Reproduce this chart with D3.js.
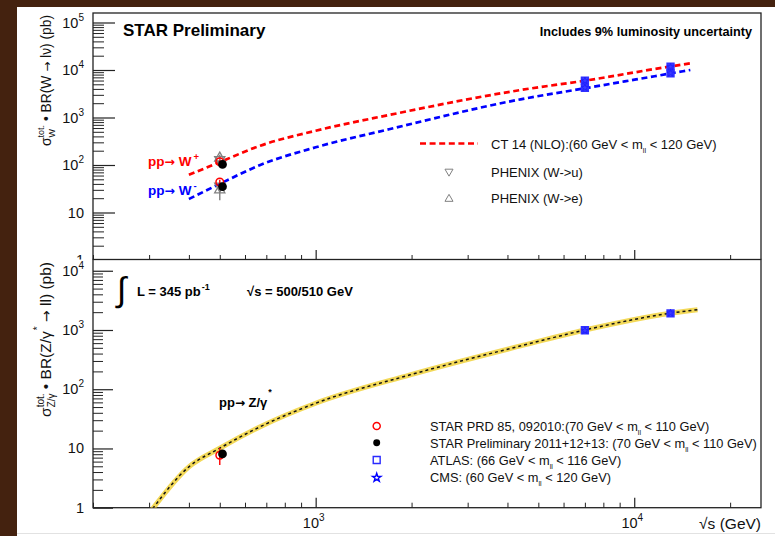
<!DOCTYPE html>
<html>
<head>
<meta charset="utf-8">
<script src="https://cdn.jsdelivr.net/npm/d3@7"></script>
<style>
  body { margin: 0; background: #fff; }
  svg { display: block; }
  text { font-family: "Liberation Sans", Arial, Helvetica, sans-serif; white-space: pre; }
</style>
</head>
<body>
<svg id="chart" width="775" height="536"></svg>
<script>
// ---- CT14 NLO predictions, sqrt(s) in GeV, cross sections in pb ----
const theoryEnergy = [400, 500, 670, 1000, 1700, 4400, 7000, 13000, 15000];
const wPlusTheory  = [62, 115, 255, 527, 1130, 3790, 5960, 11900, 13800];
const wMinusTheory = [19.2, 40, 100, 236, 565, 2415, 4120, 8460, 10000];
const zEnergy      = [300, 400, 500, 670, 1000, 1980, 4400, 7000, 13000, 15800];
const zTheory      = [0.8, 4.9, 10.1, 23.3, 58, 175, 539, 1000, 1920, 2200];

// ---- measurements ----
const starPrdEnergy = 500;          // STAR PRD 85, 092010
const starPrdW      = [117, 44];    // W+, W-
const starPrdWErr   = [10, 5];
const starPrdZ      = 7.7;
const starPrdZErr   = 2.45;

const starPrelEnergy = 510;         // STAR Preliminary 2011+12+13
const starPrelW      = [103, 35];
const starPrelWErr   = [5, 3];
const starPrelZ      = 8.1;
const starPrelZErr   = 0.8;

const phenixEnergy = 500;
const phenixE      = [140, 30];     // W -> e
const phenixEErr   = [25, 12];
const phenixMu     = [130, 36];     // W -> mu
const phenixMuErr  = [20, 8];

const lhcEnergy = [7000, 13000];
const atlasWPlus  = [6000, 11800];
const atlasWMinus = [4200, 8500];
const atlasZ      = [990, 1910];
const cmsWPlus    = [5930, 11600];
const cmsWMinus   = [4260, 8580];
const cmsZ        = [975, 1930];

// ---- axis ticks ----
const xMajor  = [1e3, 1e4];
const xLabels = [["10", "3"], ["10", "4"]];
const yTopMajor  = [1, 10, 1e2, 1e3, 1e4, 1e5];
const yTopLabels = [["1", ""], ["10", ""], ["10", "2"], ["10", "3"], ["10", "4"], ["10", "5"]];
const yBotMajor  = [1, 10, 1e2, 1e3, 1e4];
const yBotLabels = [["1", ""], ["10", ""], ["10", "2"], ["10", "3"], ["10", "4"]];

const svg = d3.select("#chart");
const L = 93, R = 761;
const topPad = { y0: 13, y1: 260 };
const botPad = { y0: 259.5, y1: 507.7 };
const ARROW_FONT = "DejaVu Sans";

const x = d3.scaleLog().domain([200, 25000]).range([L, R]);
const yTop = d3.scaleLog().domain([1, Math.pow(10, 5.2)]).range([topPad.y1, topPad.y0]);
const yBot = d3.scaleLog().domain([1, Math.pow(10, 4.19)]).range([botPad.y1, botPad.y0]);

// background with dark border band
svg.append("rect").attr("width", 775).attr("height", 536).attr("fill", "#ffffff");
svg.append("rect").attr("x", 0).attr("y", 0).attr("width", 775).attr("height", 7).attr("fill", "#44220f");
svg.append("rect").attr("x", 0).attr("y", 0).attr("width", 17).attr("height", 536).attr("fill", "#44220f");
svg.append("line").attr("x1", 17).attr("x2", 775).attr("y1", 533.5).attr("y2", 533.5).attr("stroke", "#e2e2e2");

// lays out text pieces (normal / super / sub) left to right, then anchors the whole run
function rich(parent, pieces, opt) {
  const outer = parent.append("g")
    .attr("transform", `translate(${opt.x},${opt.y}) rotate(${opt.rotate || 0})`);
  const inner = outer.append("g");
  let cursor = 0, lastStart = 0;
  pieces.forEach(p => {
    const start = p.stack ? lastStart : cursor;
    const t = inner.append("text")
      .attr("x", start + (p.dx || 0))
      .attr("y", p.shift || 0)
      .attr("font-size", p.size || opt.size)
      .attr("font-weight", p.weight || opt.weight || "normal")
      .attr("fill", p.color || opt.color || "#000")
      .text(p.text);
    if (p.font) t.style("font-family", p.font);
    const w = t.node().getComputedTextLength() + (p.dx || 0);
    if (!p.stack) lastStart = start;
    cursor = Math.max(cursor, start + w);
  });
  const anchor = opt.anchor || "start";
  const off = anchor === "end" ? -cursor : anchor === "middle" ? -cursor / 2 : 0;
  inner.attr("transform", `translate(${off},0)`);
  return outer;
}

const mll = (size) => [
  { text: "m", size },
  { text: "ll", size: size * 0.55, shift: 4 },
];
const arrow = (size, weight) => ({ text: "\u2192", size, weight, font: ARROW_FONT });

// ---------------- shared panel drawing ----------------
function drawFrameAxes(g, y, pad, majors, labels, yMajLen, yMinLen) {
  g.append("rect").attr("x", L).attr("y", pad.y0).attr("width", R - L).attr("height", pad.y1 - pad.y0)
    .attr("fill", "none").attr("stroke", "#222").attr("stroke-width", 1.3);

  // y ticks (drawn inward)
  const yMinor = y.ticks().filter(v => !majors.includes(v));
  g.append("g").attr("transform", `translate(${L},0)`)
    .call(d3.axisRight(y).tickValues(yMinor).tickSize(yMinLen).tickFormat(""))
    .call(a => a.select(".domain").remove())
    .selectAll("line").attr("stroke", "#222").attr("stroke-width", 1);
  g.append("g").attr("transform", `translate(${L},0)`)
    .call(d3.axisRight(y).tickValues(majors).tickSize(yMajLen).tickFormat(""))
    .call(a => a.select(".domain").remove())
    .selectAll("line").attr("stroke", "#222").attr("stroke-width", 1.2);

  // x ticks (drawn inward from the bottom)
  const xMinor = x.ticks().filter(v => !xMajor.includes(v));
  g.append("g").attr("transform", `translate(0,${pad.y1})`)
    .call(d3.axisTop(x).tickValues(xMinor).tickSize(5).tickFormat(""))
    .call(a => a.select(".domain").remove())
    .selectAll("line").attr("stroke", "#222");
  g.append("g").attr("transform", `translate(0,${pad.y1})`)
    .call(d3.axisTop(x).tickValues(xMajor).tickSize(10).tickFormat(""))
    .call(a => a.select(".domain").remove())
    .selectAll("line").attr("stroke", "#222").attr("stroke-width", 1.2);

  // y labels
  majors.forEach((v, i) => {
    const [base, sup] = labels[i];
    const pieces = [{ text: base, size: 14.5 }];
    if (sup) pieces.push({ text: sup, size: 10, shift: -7 });
    rich(g, pieces, { x: 84, y: y(v) + 5, anchor: "end", color: "#111" });
  });
}

function errBar(g, xv, v, e, y, color) {
  g.append("line").attr("x1", x(xv)).attr("x2", x(xv))
    .attr("y1", y(v - e)).attr("y2", y(v + e))
    .attr("stroke", color).attr("stroke-width", 1.4);
}

function marker(g, type, cx, cy, opt) {
  const sym = d3.symbol().type(type).size(opt.size);
  g.append("path").attr("d", sym())
    .attr("transform", `translate(${cx},${cy}) rotate(${opt.rotate || 0})`)
    .attr("fill", opt.fill || "none")
    .attr("stroke", opt.stroke || "none")
    .attr("stroke-width", opt.sw || 1.3);
}

// ---------------- top panel: W cross sections ----------------
const gTop = svg.append("g");
svg.append("clipPath").attr("id", "clipTop").append("rect")
  .attr("x", L).attr("y", topPad.y0).attr("width", R - L).attr("height", topPad.y1 - topPad.y0);

drawFrameAxes(gTop, yTop, topPad, yTopMajor, yTopLabels, 22, 11);

const lineTop = d3.line().x(d => x(d[0])).y(d => yTop(d[1])).curve(d3.curveMonotoneX);
const curves = gTop.append("g").attr("clip-path", "url(#clipTop)");
curves.append("path").datum(d3.zip(theoryEnergy, wPlusTheory)).attr("d", lineTop)
  .attr("fill", "none").attr("stroke", "#ff0000").attr("stroke-width", 2.7).attr("stroke-dasharray", "6,3.6");
curves.append("path").datum(d3.zip(theoryEnergy, wMinusTheory)).attr("d", lineTop)
  .attr("fill", "none").attr("stroke", "#0000ff").attr("stroke-width", 2.7).attr("stroke-dasharray", "6,3.6");

// PHENIX points
const gray = "#808080";
[0, 1].forEach(i => {
  errBar(gTop, phenixEnergy, phenixMu[i], phenixMuErr[i], yTop, gray);
  marker(gTop, d3.symbolTriangle, x(phenixEnergy), yTop(phenixMu[i]), { size: 45, stroke: gray, rotate: 180 });
  errBar(gTop, phenixEnergy, phenixE[i], phenixEErr[i], yTop, gray);
  marker(gTop, d3.symbolTriangle, x(phenixEnergy), yTop(phenixE[i]), { size: 45, stroke: gray });
});
// STAR points
[0, 1].forEach(i => {
  errBar(gTop, starPrdEnergy, starPrdW[i], starPrdWErr[i], yTop, "#ff0000");
  marker(gTop, d3.symbolCircle, x(starPrdEnergy), yTop(starPrdW[i]), { size: 45, stroke: "#ff0000", sw: 1.5 });
  errBar(gTop, starPrelEnergy, starPrelW[i], starPrelWErr[i], yTop, "#000");
  marker(gTop, d3.symbolCircle, x(starPrelEnergy), yTop(starPrelW[i]), { size: 60, fill: "#000" });
});
// LHC points
[atlasWPlus, atlasWMinus].forEach(arr => arr.forEach((v, i) => {
  marker(gTop, d3.symbolSquare, x(lhcEnergy[i]), yTop(v), { size: 40, stroke: "#3030ff", sw: 2, fill: "#4a4aff" });
}));
[cmsWPlus, cmsWMinus].forEach(arr => arr.forEach((v, i) => {
  marker(gTop, d3.symbolStar, x(lhcEnergy[i]), yTop(v), { size: 16, stroke: "#2020ff", sw: 1, fill: "#3a3aff" });
}));

// top panel texts
rich(gTop, [{ text: "STAR Preliminary", size: 17, weight: "bold" }], { x: 123, y: 36 });
rich(gTop, [{ text: "Includes 9% luminosity uncertainty", size: 12.7, weight: "bold" }], { x: 752, y: 36, anchor: "end" });
rich(gTop, [{ text: "pp", size: 13.5, weight: "bold" }, arrow(12.5, "bold"), { text: " W", size: 13.5, weight: "bold" },
  { text: "+", size: 9.5, weight: "bold", shift: -6, dx: 2 }],
  { x: 148, y: 166, color: "#ff0000" });
rich(gTop, [{ text: "pp", size: 13.5, weight: "bold" }, arrow(12.5, "bold"), { text: " W", size: 13.5, weight: "bold" },
  { text: "-", size: 9.5, weight: "bold", shift: -6, dx: 2 }],
  { x: 148, y: 195, color: "#0000ff" });

// top legend
gTop.append("line").attr("x1", 420).attr("x2", 478).attr("y1", 143.5).attr("y2", 143.5)
  .attr("stroke", "#ff0000").attr("stroke-width", 2.7).attr("stroke-dasharray", "6,3.6");
rich(gTop, [{ text: "CT 14 (NLO):(60 GeV < ", size: 13 }, ...mll(13), { text: " < 120 GeV)", size: 13 }],
  { x: 491, y: 149.3, color: "#111" });
marker(gTop, d3.symbolTriangle, 449, 171.5, { size: 28, stroke: gray, sw: 1, rotate: 180 });
rich(gTop, [{ text: "PHENIX (W->u)", size: 13 }], { x: 491, y: 177.2, color: "#111" });
marker(gTop, d3.symbolTriangle, 449, 199, { size: 28, stroke: gray, sw: 1 });
rich(gTop, [{ text: "PHENIX (W->e)", size: 13 }], { x: 491, y: 203.3, color: "#111" });

// top y title
rich(svg, [
  { text: "\u03c3", size: 14 },
  { text: "tot.", size: 9, shift: -7 },
  { text: "W", size: 9, shift: 4, stack: true },
  { text: " \u2022 BR(W ", size: 13.8 },
  arrow(12),
  { text: " l\u03bd) (pb)", size: 13.8 },
], { x: 51, y: 15, rotate: -90, anchor: "end", color: "#111" });

// ---------------- bottom panel: Z/gamma* cross sections ----------------
svg.append("rect").attr("x", 17).attr("y", 259.5).attr("width", 758).attr("height", 273).attr("fill", "#fff");
const gBot = svg.append("g");
svg.append("clipPath").attr("id", "clipBot").append("rect")
  .attr("x", L).attr("y", botPad.y0).attr("width", R - L).attr("height", botPad.y1 - botPad.y0);

drawFrameAxes(gBot, yBot, botPad, yBotMajor, yBotLabels, 20, 10);

const lineBot = d3.line().x(d => x(d[0])).y(d => yBot(d[1])).curve(d3.curveMonotoneX);
const zc = gBot.append("g").attr("clip-path", "url(#clipBot)");
const zData = d3.zip(zEnergy, zTheory);
zc.append("path").datum(zData).attr("d", lineBot)
  .attr("fill", "none").attr("stroke", "#f0d030").attr("stroke-opacity", 0.8).attr("stroke-width", 5);
zc.append("path").datum(zData).attr("d", lineBot)
  .attr("fill", "none").attr("stroke", "#111").attr("stroke-width", 1.5).attr("stroke-dasharray", "3,3");

// measurements
errBar(gBot, starPrdEnergy, starPrdZ, starPrdZErr, yBot, "#ff0000");
marker(gBot, d3.symbolCircle, x(starPrdEnergy), yBot(starPrdZ), { size: 45, stroke: "#ff0000", sw: 1.5 });
errBar(gBot, starPrelEnergy, starPrelZ, starPrelZErr, yBot, "#000");
marker(gBot, d3.symbolCircle, x(starPrelEnergy), yBot(starPrelZ), { size: 60, fill: "#000" });
atlasZ.forEach((v, i) => marker(gBot, d3.symbolSquare, x(lhcEnergy[i]), yBot(v), { size: 40, stroke: "#3030ff", sw: 2, fill: "#4a4aff" }));
cmsZ.forEach((v, i) => marker(gBot, d3.symbolStar, x(lhcEnergy[i]), yBot(v), { size: 16, stroke: "#2020ff", sw: 1, fill: "#3a3aff" }));

// x labels
xMajor.forEach((v, i) => {
  rich(gBot, [{ text: xLabels[i][0], size: 14.5 }, { text: xLabels[i][1], size: 10, shift: -7 }],
    { x: x(v) - 2, y: 528, anchor: "middle", color: "#111" });
});
rich(gBot, [{ text: "\u221as (GeV)", size: 15.5 }], { x: 761, y: 529, anchor: "end", color: "#111" });

// annotations
rich(gBot, [{ text: "\u222b", size: 34 }], { x: 117, y: 301 });
rich(gBot, [{ text: "L = 345 pb", size: 13, weight: "bold" }, { text: "-1", size: 9, weight: "bold", shift: -6, dx: 1 }],
  { x: 137, y: 295.5 });
rich(gBot, [{ text: "\u221as = 500/510 GeV", size: 13, weight: "bold" }], { x: 247, y: 295.5 });
rich(gBot, [{ text: "pp", size: 13, weight: "bold" }, arrow(12, "bold"), { text: " Z/\u03b3", size: 13, weight: "bold" },
  { text: "*", size: 9, weight: "bold", shift: -12, dx: 1 }],
  { x: 219, y: 407 });

// bottom legend
const lx = 376.7, tx = 430, lf = 12.8;
marker(gBot, d3.symbolCircle, lx, 426, { size: 40, stroke: "#ff0000", sw: 1.4 });
rich(gBot, [{ text: "STAR PRD 85, 092010:(70 GeV < ", size: lf }, ...mll(lf), { text: " < 110 GeV)", size: lf }],
  { x: tx, y: 431, color: "#111" });
marker(gBot, d3.symbolCircle, lx, 442.8, { size: 38, fill: "#000" });
rich(gBot, [{ text: "STAR Preliminary 2011+12+13: (70 GeV < ", size: lf }, ...mll(lf), { text: " < 110 GeV)", size: lf }],
  { x: tx, y: 447.6, color: "#111" });
marker(gBot, d3.symbolSquare, lx, 460, { size: 48, stroke: "#2a2aff", sw: 1.4 });
rich(gBot, [{ text: "ATLAS: (66 GeV < ", size: lf }, ...mll(lf), { text: " < 116 GeV)", size: lf }],
  { x: tx, y: 465, color: "#111" });
marker(gBot, d3.symbolStar, lx, 477.7, { size: 22, stroke: "#0000ff", sw: 1.4 });
rich(gBot, [{ text: "CMS: (60 GeV < ", size: lf }, ...mll(lf), { text: " < 120 GeV)", size: lf }],
  { x: tx, y: 481.6, color: "#111" });

// bottom y title
rich(svg, [
  { text: "\u03c3", size: 15.5 },
  { text: "tot.", size: 10, shift: -7 },
  { text: "Z/\u03b3", size: 10, shift: 4, stack: true },
  { text: " \u2022 BR(Z/\u03b3", size: 15.5 },
  { text: "*", size: 10, shift: -10, dx: 1 },
  { text: " ", size: 15.5 },
  arrow(14),
  { text: " ll) (pb)", size: 15.5 },
], { x: 51, y: 262, rotate: -90, anchor: "end", color: "#111" });
</script>
</body>
</html>
